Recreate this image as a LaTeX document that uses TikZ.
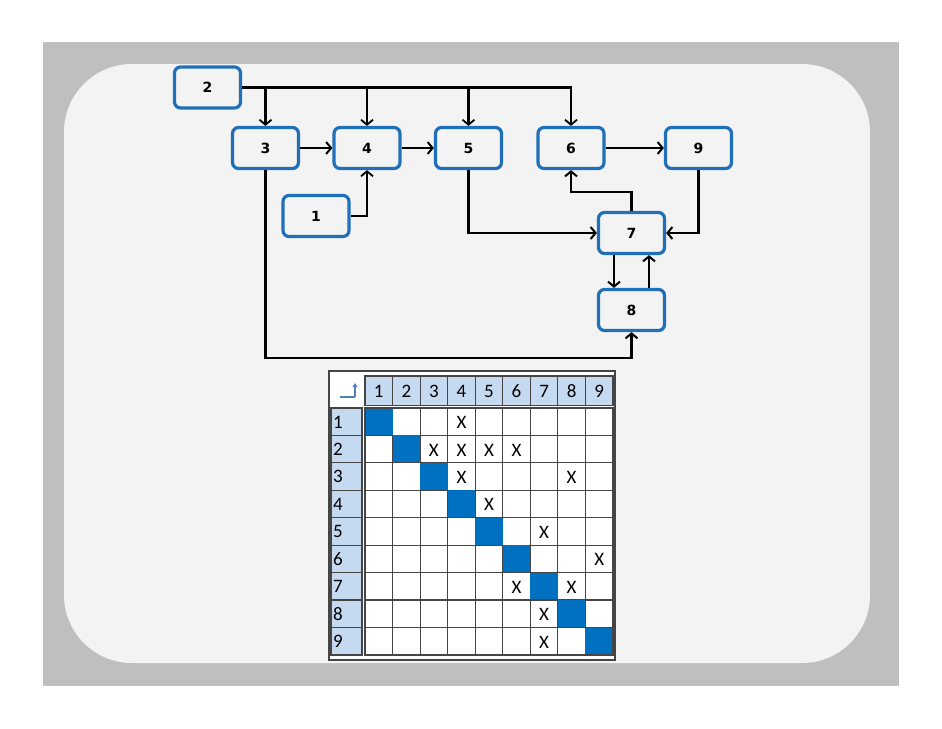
\documentclass[tikz,border=0pt]{standalone}
\usepackage{fontspec}
\setmainfont{Carlito}
\newfontfamily\boxfont{DejaVu Sans}
\usetikzlibrary{arrows.meta}
\definecolor{bggray}{HTML}{BFBFBF}
\definecolor{panel}{HTML}{F3F3F3}
\definecolor{boxblue}{HTML}{1F70B8}
\definecolor{diagblue}{HTML}{0070C0}
\definecolor{hdrblue}{HTML}{C5D9F1}
\definecolor{gridgray}{HTML}{454545}
\definecolor{iconblue}{HTML}{4F81BD}
\tikzset{
  blk/.style={draw=boxblue, fill=panel, line width=3.2pt, rounded corners=6pt,
    minimum width=66pt, minimum height=41pt, inner sep=0pt,
    font=\boxfont\bfseries\fontsize{14}{14}\selectfont},
  conn/.style={line width=2.8pt, -{Straight Barb[length=5pt,width=12pt,line width=2pt]}},
  thin/.style={line width=2.2pt, -{Straight Barb[length=5pt,width=12pt,line width=1.8pt]}},
  cell/.style={draw=gridgray, line width=1.2pt},
  hdr/.style={draw=gridgray, fill=hdrblue, line width=1.2pt},
  ctxt/.style={font=\fontsize{19}{19}\selectfont, inner sep=0pt},
}
\begin{document}
\begin{tikzpicture}[x=1pt,y=-1pt]
\useasboundingbox (0,0) rectangle (942,728);
\fill[white] (0,0) rectangle (942,728);
\fill[bggray] (43,42) rectangle (899,686);
\fill[panel, rounded corners=68pt] (64,64) rectangle (870,663);

% graph nodes
\node[blk] (n2) at (207.5,87.5) {2};
\node[blk] (n3) at (265.5,148) {3};
\node[blk] (n4) at (367,148) {4};
\node[blk] (n5) at (468.5,148) {5};
\node[blk] (n6) at (571,148) {6};
\node[blk] (n9) at (698.5,148) {9};
\node[blk] (n1) at (316,216) {1};
\node[blk] (n7) at (631.5,233) {7};
\node[blk] (n8) at (631.5,310) {8};
\coordinate (low) at (0,358);

% connectors
\draw[thin] (n2.east) -| (n6.north);
\draw[thin] (n3.north |- n2.east) -- (n3.north);
\draw[thin] (n4.north |- n2.east) -- (n4.north);
\draw[thin] (n5.north |- n2.east) -- (n5.north);
\draw[conn] (n3.east) -- (n4.west);
\draw[conn] (n4.east) -- (n5.west);
\draw[conn] (n6.east) -- (n9.west);
\draw[thin] (n1.east) -| (n4.south);
\draw[conn] (n3.south) -- (n3.south |- low) -| (n8.south);
\draw[conn] (n5.south) |- (n7.west);
\draw[conn] (n9.south) |- (n7.east);
\draw[conn] (n7.north) -- ++(0,-19) -| (n6.south);
\draw[conn] ([xshift=-17.5pt]n7.south) -- ([xshift=-17.5pt]n8.north);
\draw[conn] ([xshift=17.5pt]n8.north) -- ([xshift=17.5pt]n7.south);

% matrix
\fill[white] (329,371) rectangle (615,660);
\draw[gridgray, line width=1.2pt] (329,371) rectangle (615,660);
\foreach \i in {1,...,9}{
  \pgfmathsetmacro{\xl}{365+27.55*(\i-1)}
  \pgfmathsetmacro{\yt}{408+27.44*(\i-1)}
  \draw[hdr] (\xl,376) rectangle ++(27.55,29.5);
  \node[ctxt] (h\i) at (\xl+13.8,391) {\i};
  \draw[hdr] (331,\yt) rectangle ++(31,27.44);
  \node[ctxt, anchor=west] (r\i) at (333,\yt+14) {\i};
  \foreach \j in {1,...,9}{
    \pgfmathsetmacro{\xc}{365+27.55*(\j-1)}
    \draw[cell] (\xc,\yt) rectangle ++(27.55,27.44);
  }
  \fill[diagblue] (\xl,\yt) rectangle ++(27.55,27.44);
}
\draw[gridgray, line width=1.8pt] (365,408) rectangle (613,655);
\foreach \r/\c in {1/4,2/3,2/4,2/5,2/6,3/4,3/8,4/5,5/7,6/9,7/6,7/8,8/7,9/7}{
  \node[ctxt] (x\r-\c) at ({365+27.55*(\c-1)+13.8},{408+27.44*(\r-1)+14.5}) {X};
}
% corner icon
\draw[iconblue, line width=1.5pt] (340,397) -- (355,397);
\draw[iconblue, line width=1.5pt, -{Triangle[length=4pt,width=5pt]}] (355,397) -- (355,383);
\end{tikzpicture}
\end{document}
